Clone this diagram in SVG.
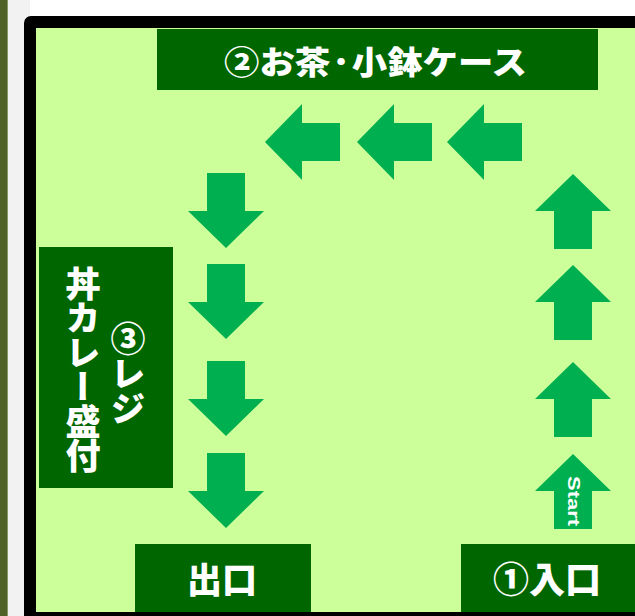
<svg xmlns="http://www.w3.org/2000/svg" width="635" height="616" viewBox="0 0 635 616">
  <style>
    .box { fill: #006600; }
    .lbl { fill: #ffffff; font-family: "Noto Sans CJK JP", "Noto Sans", sans-serif; font-weight: 900; }
    .vert { writing-mode: vertical-rl; text-orientation: mixed; }
    .arrow { fill: #00b050; }
  </style>
  <defs>
    <!-- arrow pointing left, tip at origin -->
    <path id="arr" d="M0,0 L37,-38 L37,-19 L75,-19 L75,19 L37,19 L37,38 Z"/>
  </defs>

  <!-- page background -->
  <rect x="0" y="0" width="635" height="616" fill="#ffffff"/>
  <rect x="0" y="0" width="30" height="616" fill="#f2f2f2"/>
  <rect x="0" y="0" width="7" height="616" fill="#4f6228"/>
  <rect x="7" y="0" width="1" height="616" fill="#8a9868"/>

  <!-- floor frame -->
  <rect x="24" y="16" width="650" height="640" rx="7" fill="#000000"/>
  <rect x="36" y="28" width="620" height="584" fill="#ccff99"/>

  <g id="node-tea">
    <rect class="box" x="157" y="29" width="441" height="61"/>
    <text class="lbl" x="224" y="74" font-size="32" textLength="303" lengthAdjust="spacingAndGlyphs">②お茶·小鉢ケース</text>
  </g>

  <g id="node-register">
    <rect class="box" x="39" y="247" width="134" height="241"/>
    <text class="lbl vert" x="83" y="266" font-size="35" letter-spacing="-0.5">丼カレー盛付</text>
    <text class="lbl vert" x="128" y="321" font-size="35">③レジ</text>
  </g>

  <g id="node-exit">
    <rect class="box" x="135" y="544" width="176" height="68"/>
    <text class="lbl" x="222" y="593" font-size="35" text-anchor="middle">出口</text>
  </g>

  <g id="node-entrance">
    <rect class="box" x="461" y="544" width="180" height="68"/>
    <text class="lbl" x="547" y="593" font-size="36" text-anchor="middle">①入口</text>
  </g>

  <g id="connectors">
    <!-- up arrows (right side) -->
    <use href="#arr" class="arrow" transform="translate(573,454) rotate(90)"/>
    <use href="#arr" class="arrow" transform="translate(573,362) rotate(90)"/>
    <use href="#arr" class="arrow" transform="translate(573,265) rotate(90)"/>
    <use href="#arr" class="arrow" transform="translate(573,174) rotate(90)"/>
    <!-- left arrows (top) -->
    <use href="#arr" class="arrow" transform="translate(447,142)"/>
    <use href="#arr" class="arrow" transform="translate(357,142)"/>
    <use href="#arr" class="arrow" transform="translate(265,142)"/>
    <!-- down arrows (left side) -->
    <use href="#arr" class="arrow" transform="translate(226,248) rotate(-90)"/>
    <use href="#arr" class="arrow" transform="translate(226,339) rotate(-90)"/>
    <use href="#arr" class="arrow" transform="translate(226,436) rotate(-90)"/>
    <use href="#arr" class="arrow" transform="translate(226,528) rotate(-90)"/>
    <text x="573" y="501" transform="rotate(90 573 501)" fill="#ffffff" font-family="Liberation Sans, Arial, sans-serif" font-weight="700" font-size="17" text-anchor="middle" dominant-baseline="central" textLength="50" lengthAdjust="spacingAndGlyphs">Start</text>
  </g>
</svg>
